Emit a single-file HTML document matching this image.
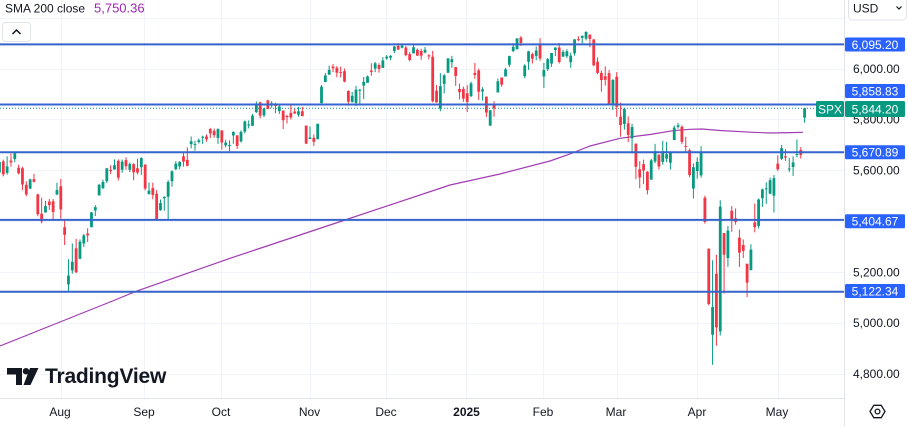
<!DOCTYPE html>
<html><head><meta charset="utf-8">
<style>
html,body{margin:0;padding:0;background:#fff;}
body{width:908px;height:426px;overflow:hidden;position:relative;font-family:"Liberation Sans",sans-serif;}
svg{position:absolute;left:0;top:0;}
</style></head>
<body>
<svg id="c" width="908" height="426" viewBox="0 0 908 426" xmlns="http://www.w3.org/2000/svg" font-family="Liberation Sans, sans-serif">
  <rect x="0" y="0" width="908" height="426" fill="#ffffff"/>
  <g id="grid" stroke="#f0f3fa" stroke-width="1" shape-rendering="crispEdges"></g>
  <g id="sma"></g>
  <g id="candles"></g>
  <g id="hlines"></g>
  <line x1="844.5" y1="0" x2="844.5" y2="426" stroke="#e0e3eb" stroke-width="1" shape-rendering="crispEdges"/>
  <line x1="0" y1="398.5" x2="844" y2="398.5" stroke="#e0e3eb" stroke-width="1" shape-rendering="crispEdges"/>
  <g id="axis" font-size="12" fill="#131722"></g>
  <g id="labels" font-size="12"></g>

  <text x="5" y="12.5" font-size="12" fill="#131722">SMA 200 close</text>
  <text x="94" y="12.5" font-size="13" fill="#9c27b0">5,750.36</text>
  <rect x="2.5" y="22.5" width="28" height="19" rx="3" fill="#fff" stroke="#e0e3eb"/>
  <path d="M12.5 34 L16.5 30 L20.5 34" fill="none" stroke="#131722" stroke-width="1.5"/>

  <rect x="848.5" y="-4" width="58" height="24" rx="4" fill="#fff" stroke="#e0e3eb"/>
  <text x="853" y="12.5" font-size="12" fill="#131722">USD</text>
  <path d="M896.5 6.5 L899 9 L901.5 6.5" fill="none" stroke="#131722" stroke-width="1.2"/>

  <g font-size="12" fill="#131722" text-anchor="middle">
    <text x="60" y="416">Aug</text>
    <text x="144" y="416">Sep</text>
    <text x="221" y="416">Oct</text>
    <text x="309.5" y="416">Nov</text>
    <text x="386" y="416">Dec</text>
    <text x="466.5" y="416" font-weight="bold">2025</text>
    <text x="543" y="416">Feb</text>
    <text x="616" y="416">Mar</text>
    <text x="697" y="416">Apr</text>
    <text x="777" y="416">May</text>
  </g>
  <polygon points="870,411.5 873.8,405.3 881.2,405.3 885,411.5 881.2,417.7 873.8,417.7" fill="none" stroke="#131722" stroke-width="1.3"/>
  <circle cx="877.5" cy="411.5" r="2.4" fill="none" stroke="#131722" stroke-width="1.3"/>

  <g fill="#131722">
    <rect x="7" y="368" width="15" height="6.5"/>
    <rect x="16" y="368" width="6" height="17"/>
    <circle cx="26" cy="371.2" r="3.2"/>
    <polygon points="30,368 38.5,368 30.5,385 23.5,385"/>
    <text x="45" y="383" font-size="21" font-weight="bold" letter-spacing="-0.2">TradingView</text>
  </g>
</svg>
<script>
(function(){
var NS="http://www.w3.org/2000/svg";
function el(tag,attrs,parent,txt){var e=document.createElementNS(NS,tag);for(var k in attrs)e.setAttribute(k,attrs[k]);if(txt!==undefined)e.textContent=txt;parent.appendChild(e);return e;}
var Y=function(p){return 68.6+(6000-p)*0.2542;};
var STEP=3.834,X0=60.8;
var grid=document.getElementById('grid');
[61,144,221,310,386,466,543,617,697,778].forEach(function(x){el('line',{x1:x+.5,y1:0,x2:x+.5,y2:398},grid);});
[6200,6000,5800,5600,5400,5200,5000,4800].forEach(function(p){var y=Math.round(Y(p))+.5;el('line',{x1:0,y1:y,x2:844,y2:y},grid);});

var pts=[[0,346],[60,322],[115,300],[135,291.7],[230,258.3],[345,220],[450,185],[500,174],[550,161],[570,154],[590,146],[620,138.3],[650,134.5],[673,130.7],[690,129.3],[702,129],[720,130.5],[753,132.3],[770,133],[790,132.6],[803,132.3]];
el('polyline',{points:pts.map(function(p){return p.join(',');}).join(' '),fill:'none',stroke:'#a23cb4','stroke-width':1.2},document.getElementById('sma'));

var jul=[[5591,5635,5587,5633],[5635,5642,5576,5584],[5590,5655,5583,5615],[5638,5666,5614,5631],[5644,5669,5631,5667],[5610,5622,5584,5588],[5608,5614,5522,5544],[5543,5557,5498,5505],[5528,5567,5526,5564],[5565,5586,5552,5555],[5505,5508,5419,5427],[5429,5492,5391,5399],[5434,5480,5433,5459],[5477,5487,5444,5463],[5478,5487,5401,5436],[5505,5551,5502,5522]];
var aug=[[5537,5566,5410,5446],[5376,5402,5306,5346],[5151,5250,5119,5186],[5206,5312,5193,5240],[5293,5330,5195,5199],[5252,5328,5250,5319],[5312,5350,5298,5344],[5351,5372,5318,5344],[5376,5436,5376,5434],[5442,5463,5420,5455],[5501,5546,5501,5543],[5530,5563,5526,5554],[5557,5608,5550,5608],[5602,5620,5585,5597],[5603,5643,5602,5620],[5637,5643,5560,5571],[5602,5642,5590,5634],[5640,5651,5602,5616],[5602,5631,5593,5625],[5624,5628,5561,5592],[5608,5646,5584,5591],[5612,5651,5582,5648]];
var sep=[[5623,5623,5521,5528],[5507,5552,5504,5520],[5530,5551,5486,5503],[5508,5522,5402,5408],[5443,5485,5441,5471],[5490,5497,5441,5496],[5496,5561,5406,5554],[5557,5600,5535,5596],[5605,5636,5600,5626],[5615,5636,5604,5633],[5655,5671,5614,5634],[5641,5690,5615,5618],[5703,5733,5686,5714],[5702,5716,5677,5703],[5711,5725,5705,5718],[5728,5736,5703,5732],[5733,5741,5712,5722],[5762,5767,5727,5745],[5755,5764,5728,5738],[5727,5765,5704,5762]];
var oct=[[5757,5757,5681,5709],[5698,5720,5690,5709],[5698,5718,5675,5699],[5737,5753,5704,5751],[5737,5739,5684,5696],[5714,5757,5709,5751],[5752,5796,5745,5792],[5778,5796,5765,5780],[5775,5822,5775,5815],[5829,5871,5825,5859],[5867,5870,5804,5815],[5816,5846,5809,5843],[5875,5878,5840,5841],[5859,5872,5846,5864],[5857,5866,5824,5853],[5833,5863,5822,5851],[5835,5835,5762,5797],[5814,5817,5784,5809],[5826,5862,5800,5808],[5831,5842,5823,5823],[5819,5850,5811,5832],[5832,5850,5813,5813],[5776,5776,5703,5705]];
var nov=[[5723,5772,5723,5729],[5728,5741,5696,5712],[5722,5783,5722,5783],[5864,5936,5864,5929],[5947,5983,5947,5973],[5976,6012,5976,5995],[6008,6018,5986,6001],[6003,6010,5966,5984],[5986,6008,5965,5985],[5990,6000,5946,5949],[5912,5915,5854,5870],[5869,5908,5866,5893],[5865,5932,5853,5917],[5915,5920,5860,5917],[5933,5967,5880,5948],[5944,5973,5945,5969],[5992,6021,5972,5987],[6000,6026,5986,6021],[6014,6021,5984,5999],[6003,6045,6003,6032]];
var dec=[[6040,6053,6035,6047],[6043,6053,6033,6050],[6069,6089,6061,6087],[6089,6100,6073,6075],[6082,6099,6079,6090],[6083,6089,6048,6053],[6057,6065,6029,6034],[6060,6093,6060,6084],[6074,6079,6050,6051],[6069,6078,6035,6051],[6063,6085,6060,6074],[6052,6057,6036,6050],[6047,6070,5867,5872],[5913,5935,5866,5867],[5843,5982,5832,5931],[5940,5978,5902,5974],[5984,6041,5982,6040],[6025,6050,6003,6037],[6006,6006,5932,5971],[5920,5941,5879,5907],[5920,5929,5869,5882]];
var jan=[[5903,5935,5829,5869],[5892,5949,5888,5942],[5983,6022,5960,5975],[5993,6000,5877,5909],[5910,5927,5874,5918],[5890,5890,5809,5827],[5776,5837,5774,5836],[5859,5872,5811,5843],[5906,5961,5906,5950],[5965,5965,5929,5937],[5969,6003,5969,5997],[6015,6051,6006,6049],[6069,6100,6065,6086],[6076,6119,6075,6119],[6122,6128,6089,6101],[5970,6017,5962,6012],[6027,6070,5995,6068],[6057,6063,6020,6039],[6050,6087,6033,6071],[6096,6120,6031,6040]];
var feb=[[5969,6022,5924,5994],[5998,6042,5991,6037],[6020,6062,6007,6061],[6073,6084,6049,6083],[6083,6101,6020,6026],[6047,6074,6046,6066],[6049,6076,6042,6068],[6025,6063,6003,6051],[6060,6116,6051,6115],[6116,6127,6108,6114],[6121,6130,6099,6129],[6118,6147,6111,6144],[6134,6134,6084,6117],[6115,6115,6009,6013],[6027,6044,5978,5983],[5983,5992,5909,5955],[5970,6009,5933,5956],[5982,5994,5858,5861],[5857,5959,5837,5955]];
var mar=[[5968,5986,5810,5850],[5811,5866,5732,5778],[5782,5846,5760,5842],[5785,5812,5711,5739],[5726,5783,5666,5770],[5705,5705,5565,5614],[5604,5636,5529,5572],[5624,5642,5546,5599],[5594,5597,5505,5522],[5563,5645,5563,5639],[5635,5704,5628,5675],[5662,5662,5603,5615],[5633,5716,5622,5675],[5646,5711,5632,5663],[5630,5670,5603,5668],[5719,5776,5719,5768],[5771,5786,5764,5777],[5771,5777,5703,5712],[5696,5732,5670,5693],[5679,5685,5572,5581],[5528,5627,5489,5612]];
var apr=[[5597,5651,5567,5633],[5580,5695,5571,5671],[5492,5500,5390,5397],[5292,5292,5069,5074],[4953,5246,4835,5062],[5193,5267,4910,4982],[4966,5482,4950,5457],[5353,5353,5115,5268],[5255,5381,5220,5363],[5441,5459,5358,5406],[5411,5450,5386,5397],[5335,5367,5220,5276],[5306,5328,5255,5283],[5232,5233,5101,5158],[5207,5309,5207,5288],[5395,5469,5356,5376],[5381,5489,5371,5485],[5490,5528,5456,5525],[5525,5553,5468,5529],[5508,5571,5506,5561],[5500,5581,5434,5569]];
var may=[[5626,5659,5597,5604],[5645,5700,5640,5687],[5655,5683,5637,5650],[5605,5649,5593,5607],[5613,5655,5578,5631],[5663,5721,5651,5664],[5680,5691,5646,5660],[5807,5845,5787,5844]];
var months=[[-16,jul],[0,aug],[22,sep],[42,oct],[65,nov],[85,dec],[106,jan],[126,feb],[145,mar],[166,apr],[187,may]];
var cg=document.getElementById('candles');
var UP='#089981',DN='#f23645';
months.forEach(function(m){
  m[1].forEach(function(d,j){
    var x=X0+(m[0]+j)*STEP;
    var o=d[0],h=d[1],l=d[2],c=d[3];
    var col=c>=o?UP:DN;
    el('line',{x1:x,y1:Y(h),x2:x,y2:Y(l),stroke:col,'stroke-width':1},cg);
    var t=Y(Math.max(o,c)),b=Y(Math.min(o,c));
    var hh=Math.max(1,b-t);
    el('rect',{x:x-1.4,y:t,width:2.8,height:hh,fill:col},cg);
  });
});

var hl=document.getElementById('hlines');
[6095.20,5858.83,5670.89,5404.67,5122.34].forEach(function(p){
  el('line',{x1:0,y1:Y(p),x2:844,y2:Y(p),stroke:'#3464cc','stroke-width':2},hl);
});
var ly=Y(5844.2);
el('line',{x1:0,y1:ly,x2:844,y2:ly,stroke:'#089981','stroke-width':1,'stroke-dasharray':'1,2'},hl);

var ax=document.getElementById('axis');
[[6000,'6,000.00'],[5800,'5,800.00'],[5600,'5,600.00'],[5400,'5,400.00'],[5200,'5,200.00'],[5000,'5,000.00'],[4800,'4,800.00']].forEach(function(t){
  el('text',{x:853,y:Y(t[0])+4.3},ax,t[1]);
});

var lb=document.getElementById('labels');
[[44.5,'6,095.20'],[91,'5,858.83'],[152.3,'5,670.89'],[221.2,'5,404.67'],[291,'5,122.34']].forEach(function(t){
  el('rect',{x:845,y:t[0]-7,width:60,height:14,rx:1.5,fill:'#2962ff'},lb);
  el('text',{x:875,y:t[0]+4.3,fill:'#ffffff','text-anchor':'middle'},lb,t[1]);
});
el('rect',{x:816,y:101,width:28,height:16,rx:1.5,fill:'#089981'},lb);
el('text',{x:830,y:113.3,fill:'#ffffff','text-anchor':'middle'},lb,'SPX');
el('rect',{x:845,y:101,width:60,height:16,rx:1.5,fill:'#089981'},lb);
el('text',{x:875,y:113.3,fill:'#ffffff','text-anchor':'middle'},lb,'5,844.20');
})();
</script>
</body></html>
